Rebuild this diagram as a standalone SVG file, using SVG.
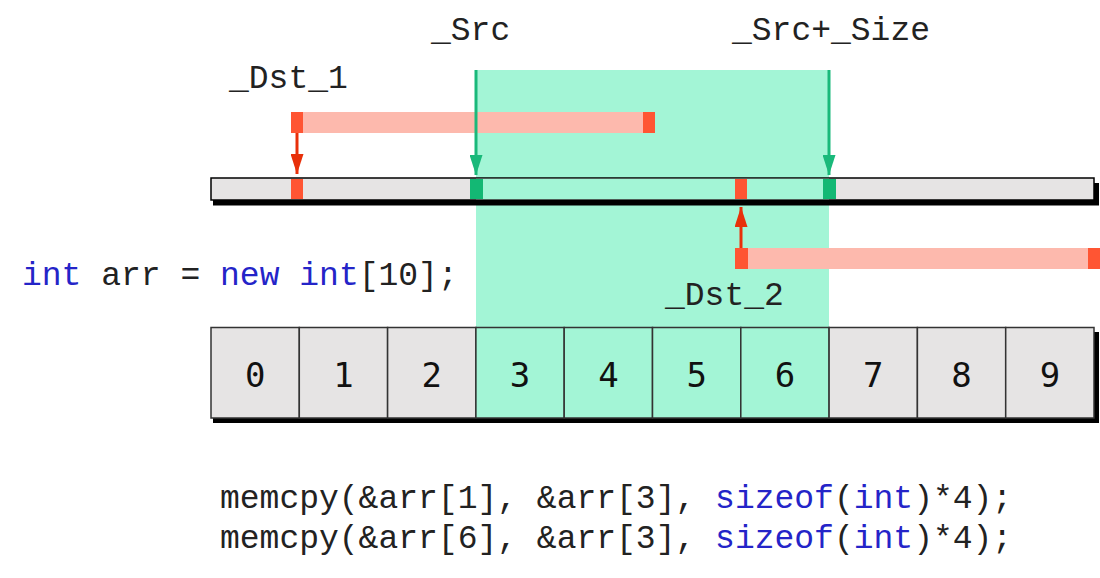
<svg xmlns="http://www.w3.org/2000/svg" width="1100" height="578" viewBox="0 0 1100 578">
<style>
.lbl{font-family:"Liberation Mono","Courier New",monospace;font-size:33px;fill:#222}
.kw{fill:#2424c8}
.dig{font-family:"DejaVu Sans Mono",monospace;font-size:34px;fill:#111;text-anchor:middle}
.cell{fill:#e6e4e4;stroke:#333;stroke-width:1.5}
.cellg{fill:#a3f5d6;stroke:#333;stroke-width:1.5}
.red{fill:#ff5533}
.pale{fill:#fdb9ad}
.grn{fill:#13b874}
</style>
<defs>
<marker id="ag" markerWidth="20" markerHeight="13" refX="20" refY="6.5" orient="auto" markerUnits="userSpaceOnUse" viewBox="0 0 20 13"><path d="M0,0 L20,6.5 L0,13 Z" fill="#19b97a"/></marker>
<marker id="ar" markerWidth="20" markerHeight="13" refX="20" refY="6.5" orient="auto" markerUnits="userSpaceOnUse" viewBox="0 0 20 13"><path d="M0,0 L20,6.5 L0,13 Z" fill="#e8300a"/></marker>
</defs>
<rect width="1100" height="578" fill="#fff"/>
<rect id="highlight" x="476" y="70" width="353" height="258" fill="#a3f5d6"/>
<g id="memory">
<rect x="213" y="200" width="886" height="5.5" fill="#000"/>
<rect x="1094" y="183" width="5" height="22" fill="#000"/>
<rect x="211" y="178" width="883" height="22" fill="#e6e4e4" stroke="#000" stroke-width="1.5"/>
<rect x="476" y="178.8" width="353" height="20.4" fill="#a3f5d6"/>
<rect class="red" x="291" y="179" width="12" height="20"/>
<rect class="red" x="735" y="179" width="12" height="20"/>
<rect class="grn" x="470" y="179" width="13" height="20"/>
<rect class="grn" x="823" y="179" width="13" height="20"/>
</g>
<g id="dst1">
<rect class="pale" x="291" y="112" width="364" height="21"/>
<rect class="red" x="291" y="112" width="12" height="21"/>
<rect class="red" x="643" y="112" width="12" height="21"/>
</g>
<g id="dst2">
<rect class="pale" x="735" y="248" width="365" height="21"/>
<rect class="red" x="735" y="248" width="13" height="21"/>
<rect class="red" x="1088" y="248" width="12" height="21"/>
</g>
<g id="connectors">
<line x1="476" y1="70" x2="476" y2="175" stroke="#19b97a" stroke-width="3" marker-end="url(#ag)"/>
<line x1="829" y1="70" x2="829" y2="175" stroke="#19b97a" stroke-width="3" marker-end="url(#ag)"/>
<line x1="297" y1="133" x2="297" y2="174" stroke="#e8300a" stroke-width="3" marker-end="url(#ar)"/>
<line x1="741" y1="248" x2="741" y2="207" stroke="#e8300a" stroke-width="3" marker-end="url(#ar)"/>
</g>
<g id="labels">
<text class="lbl" x="431" y="40">_Src</text>
<text class="lbl" x="732" y="40">_Src+_Size</text>
<text class="lbl" x="229" y="88">_Dst_1</text>
<text class="lbl" x="665" y="305">_Dst_2</text>
<text class="lbl" x="22" y="285"><tspan class="kw">int</tspan> arr = <tspan class="kw">new</tspan> <tspan class="kw">int</tspan>[10];</text>
<text class="lbl" x="220" y="508">memcpy(&amp;arr[1], &amp;arr[3], <tspan class="kw">sizeof</tspan>(<tspan class="kw">int</tspan>)*4);</text>
<text class="lbl" x="220" y="548">memcpy(&amp;arr[6], &amp;arr[3], <tspan class="kw">sizeof</tspan>(<tspan class="kw">int</tspan>)*4);</text>
</g>
<g id="array">
<rect x="213" y="418" width="886" height="5" fill="#000"/>
<rect x="1094" y="332" width="5" height="91" fill="#000"/>
<g id="cell0"><rect class="cell" x="211" y="327.5" width="88.3" height="90.5"/><text class="dig" x="255.2" y="387">0</text></g>
<g id="cell1"><rect class="cell" x="299.3" y="327.5" width="88.3" height="90.5"/><text class="dig" x="343.5" y="387">1</text></g>
<g id="cell2"><rect class="cell" x="387.6" y="327.5" width="88.3" height="90.5"/><text class="dig" x="431.8" y="387">2</text></g>
<g id="cell3"><rect class="cellg" x="475.9" y="327.5" width="88.3" height="90.5"/><text class="dig" x="520.1" y="387">3</text></g>
<g id="cell4"><rect class="cellg" x="564.2" y="327.5" width="88.3" height="90.5"/><text class="dig" x="608.4" y="387">4</text></g>
<g id="cell5"><rect class="cellg" x="652.5" y="327.5" width="88.3" height="90.5"/><text class="dig" x="696.7" y="387">5</text></g>
<g id="cell6"><rect class="cellg" x="740.8" y="327.5" width="88.3" height="90.5"/><text class="dig" x="785" y="387">6</text></g>
<g id="cell7"><rect class="cell" x="829.1" y="327.5" width="88.3" height="90.5"/><text class="dig" x="873.3" y="387">7</text></g>
<g id="cell8"><rect class="cell" x="917.4" y="327.5" width="88.3" height="90.5"/><text class="dig" x="961.6" y="387">8</text></g>
<g id="cell9"><rect class="cell" x="1005.7" y="327.5" width="88.3" height="90.5"/><text class="dig" x="1049.9" y="387">9</text></g>
</g>
</svg>
